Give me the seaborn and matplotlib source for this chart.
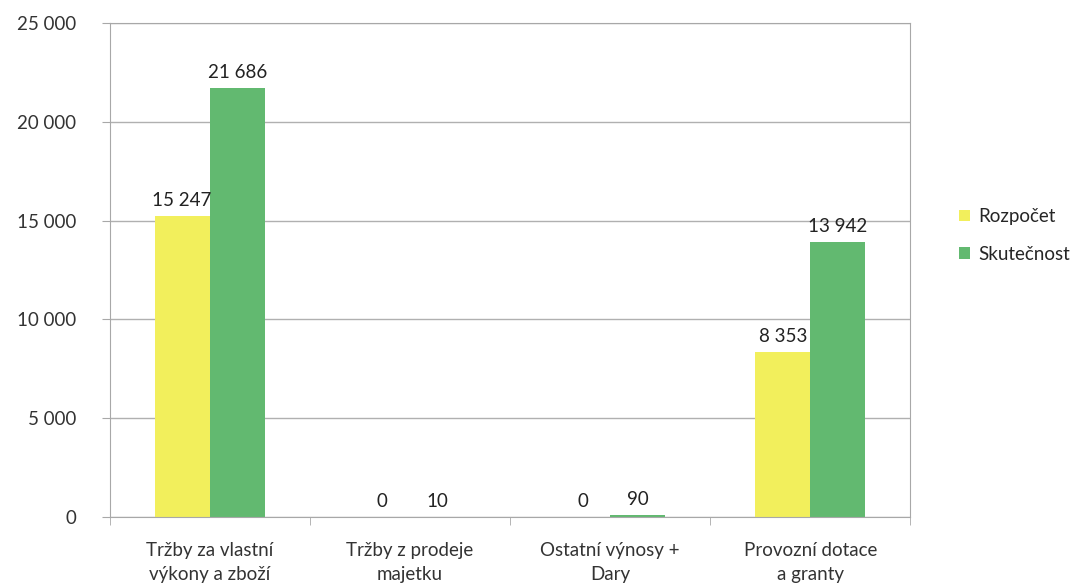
#%% import tools and libraries
import pandas as pd
import seaborn as sb
import matplotlib.pyplot as plt

#%% data
categories = ['Tržby za vlastní\nvýkony a zboží', 'Tržby z prodeje\nmajetku',
              'Ostatní výnosy +\nDary', 'Provozní dotace\na granty']
rozpocet = [15247, 0, 0, 8353]
skutecnost = [21686, 10, 90, 13942]
series = ['Rozpočet', 'Skutečnost']
colors = ['#F2EF5C', '#62B970']

df = pd.DataFrame({'cat': categories * 2,
                   'value': rozpocet + skutecnost,
                   'serie': [series[0]] * 4 + [series[1]] * 4})

#%% plot
sb.set_style('white')
plt.rcParams['font.family'] = ['Lato', 'DejaVu Sans']

fig = plt.figure(figsize=(10.85, 5.87), dpi=100)
ax = fig.add_axes([0.101, 0.119, 0.738, 0.842])
sb.barplot(data=df, x='cat', y='value', hue='serie', palette=colors,
           width=0.55, ax=ax, saturation=1, linewidth=0, legend=True)

ax.set_ylim(0, 25000)
ax.set_yticks(range(0, 25001, 5000))
ax.set_yticklabels([f'{v:,}'.replace(',', ' ') for v in range(0, 25001, 5000)])
ax.grid(axis='y', color='#b0b0b0', linewidth=1)
ax.set_axisbelow(True)
for s in ax.spines.values():
    s.set_color('#a8a8a8')
ax.tick_params(axis='both', labelsize=13.5, colors='#333333', length=6, color='#a8a8a8')
ax.tick_params(axis='y', pad=18, direction='out', left=True)
ax.tick_params(axis='x', which='major', pad=12, bottom=False)
# category boundary ticks
ax.set_xticks([-0.5, 0.5, 1.5, 2.5, 3.5], minor=True)
ax.tick_params(axis='x', which='minor', bottom=True, length=6, color='#a8a8a8')
ax.set_xlim(-0.5, 3.5)
for t in ax.get_xticklabels():
    t.set_linespacing(1.5)
ax.set_xlabel('')
ax.set_ylabel('')

# value labels above bars
for cont in ax.containers:
    ax.bar_label(cont, labels=[f'{int(v):,}'.replace(',', ' ') for v in cont.datavalues],
                 padding=5, fontsize=13.5, color='#222222')

ax.legend(loc='center left', bbox_to_anchor=(1.04, 0.57), frameon=False,
          fontsize=13.5, handlelength=0.6, handleheight=0.6, labelspacing=1.1,
          handletextpad=0.4)

plt.savefig('out.png', dpi=100)
